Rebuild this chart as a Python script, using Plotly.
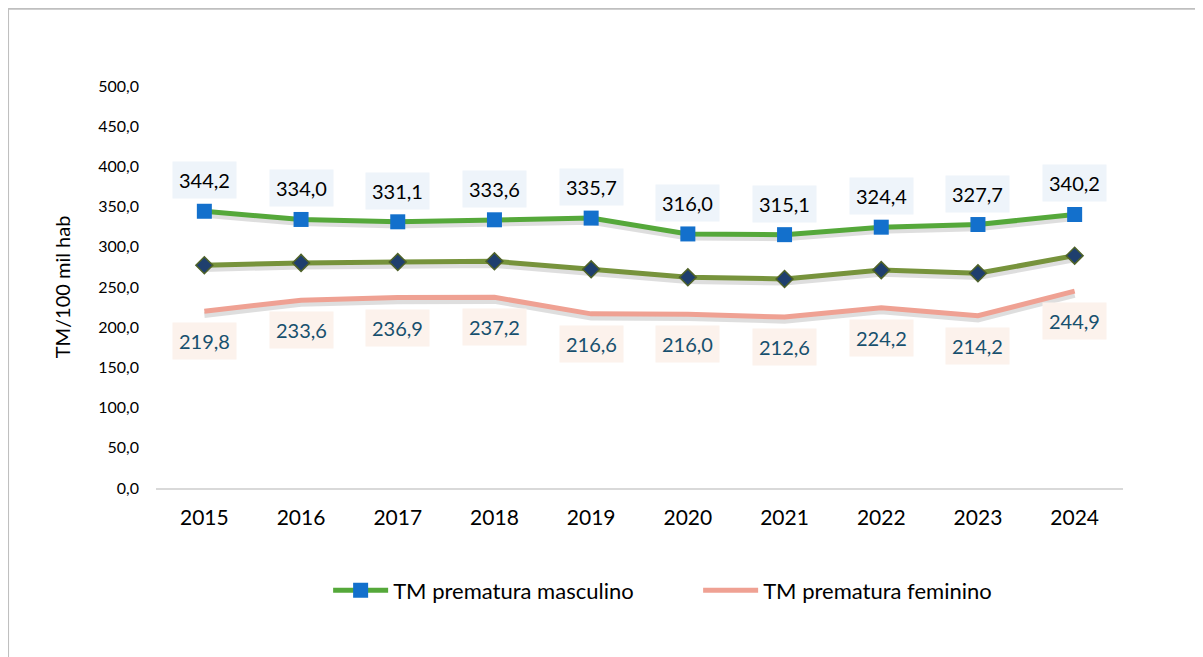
import plotly.graph_objects as go

years = ["2015", "2016", "2017", "2018", "2019", "2020", "2021", "2022", "2023", "2024"]
masculino = [344.2, 334.0, 331.1, 333.6, 335.7, 316.0, 315.1, 324.4, 327.7, 340.2]
total = [277, 280, 281, 282, 272, 262, 260, 271, 267, 289]
feminino = [219.8, 233.6, 236.9, 237.2, 216.6, 216.0, 212.6, 224.2, 214.2, 244.9]
y_ticks = [0, 50, 100, 150, 200, 250, 300, 350, 400, 450, 500]

def fmt(v):
    return f"{v:.1f}".replace(".", ",")

FONT = "Lato, Carlito, Calibri, sans-serif"
SHADOW_DROP = 4.5  # soft drop shadow under the lines, in data units

fig = go.Figure()
# soft shadows (drawn first, hidden from legend)
for series in (masculino, total, feminino):
    fig.add_trace(go.Scatter(
        x=years, y=[v - SHADOW_DROP for v in series], mode="lines", showlegend=False,
        hoverinfo="skip", line=dict(color="rgba(0,0,0,0.13)", width=6),
    ))

fig.add_trace(go.Scatter(
    x=years, y=masculino, name="TM prematura masculino", mode="lines+markers",
    line=dict(color="#55A83A", width=5),
    marker=dict(symbol="square", size=15, color="#1370CC", line=dict(width=0)),
))
fig.add_trace(go.Scatter(
    x=years, y=feminino, name="TM prematura feminino", mode="lines",
    line=dict(color="#EFA193", width=5),
))
fig.add_trace(go.Scatter(
    x=years, y=total, name="TM prematura total", mode="lines+markers", showlegend=False,
    line=dict(color="#77933C", width=5),
    marker=dict(symbol="diamond", size=13, color="#1F3F6E", line=dict(color="#4F6228", width=1.5)),
))

# category axes: annotation x given as category index
for i, v in enumerate(masculino):
    fig.add_annotation(x=i, y=v, text=fmt(v), showarrow=False, yshift=31,
                       bgcolor="#EEF4FA", borderpad=6,
                       font=dict(family=FONT, size=20, color="#000000"))
for i, v in enumerate(feminino):
    fig.add_annotation(x=i, y=v, text=fmt(v), showarrow=False, yshift=-30,
                       bgcolor="#FCF2EC", borderpad=6,
                       font=dict(family=FONT, size=20, color="#17506E"))

# outer chart border (left and top visible)
fig.add_shape(type="line", xref="paper", yref="paper", x0=-0.153, x1=1.2, y0=1.192, y1=1.192,
              line=dict(color="#BFBFBF", width=2))
fig.add_shape(type="line", xref="paper", yref="paper", x0=-0.153, x1=-0.153, y0=-0.5, y1=1.192,
              line=dict(color="#BFBFBF", width=2))

fig.update_layout(
    width=1203, height=657,
    margin=dict(l=148, r=88, t=78, b=177),
    paper_bgcolor="white", plot_bgcolor="white",
    font=dict(family=FONT, color="#000000"),
    showlegend=True,
    legend=dict(orientation="h", x=0.178, xanchor="left", y=-0.255, yanchor="middle",
                font=dict(family=FONT, size=22, color="#000000"),
                itemwidth=55, entrywidth=300, entrywidthmode="pixels",
                traceorder="normal"),
    xaxis=dict(type="category", range=[-0.5, 9.5], automargin=False,
               showgrid=False, showline=True, linecolor="#D9D9D9", linewidth=2,
               ticks="", ticklabelstandoff=10,
               tickfont=dict(family=FONT, size=21, color="#000000"), zeroline=False),
    yaxis=dict(range=[0, 500], automargin=False, tickvals=y_ticks,
               ticktext=[fmt(t) for t in y_ticks],
               showgrid=False, showline=False, zeroline=False, ticks="",
               ticklabelstandoff=16,
               tickfont=dict(family=FONT, size=16, color="#000000"),
               title=dict(text="TM/100 mil hab", font=dict(family=FONT, size=20, color="#000000"),
                          standoff=22)),
)

fig.write_html("out.html")
